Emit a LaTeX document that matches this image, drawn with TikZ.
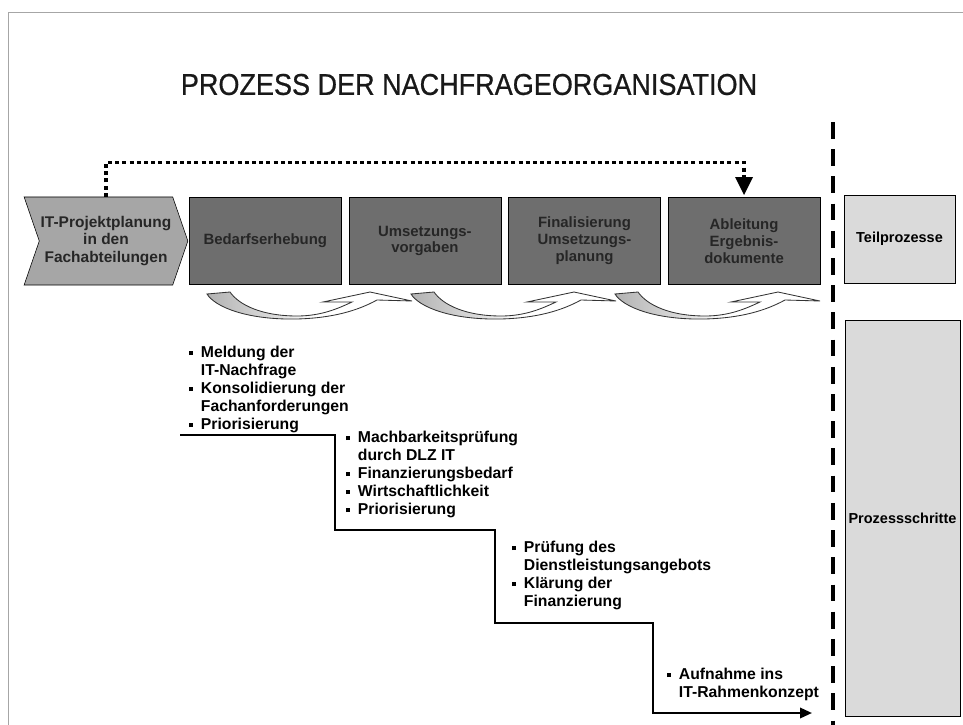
\documentclass[tikz,border=0pt]{standalone}
\usepackage{graphicx}
\usepackage{fontspec}
\setsansfont{Liberation Sans}
\newfontfamily\headfont[FakeBold=0.7]{Liberation Sans}
\usepackage{tikz}
\usetikzlibrary{positioning, shapes.symbols, arrows.meta}

\definecolor{boxgray}{HTML}{6E6E6E}
\definecolor{chevgray}{HTML}{A6A6A6}
\definecolor{palegray}{HTML}{DADADA}

% grey tail fading out towards the arrow head
\pgfdeclarehorizontalshading{tailfade}{100bp}{color(0bp)=(gray!60); color(25bp)=(gray!60); color(40bp)=(gray!30); color(52bp)=(white); color(100bp)=(white)}

\newcommand{\bul}{\raisebox{0.32ex}{\rule{2.8pt}{2.8pt}}}
\newcommand{\blist}[1]{\begin{tabular}{@{}l@{\hspace{5.5pt}}l@{}}#1\end{tabular}}

\begin{document}
\begin{tikzpicture}[
    x=0.025cm, y=-0.025cm,
    node distance=0.175cm,
    stepbox/.style={draw, fill=boxgray, minimum width=3.8cm, minimum height=2.175cm,
        inner sep=2pt, align=center, text=black!85,
        font=\sffamily\bfseries\fontsize{10.6}{12}\selectfont},
    sidebox/.style={draw, fill=palegray, inner sep=1pt,
        font=\sffamily\bfseries\fontsize{10.3}{12}\selectfont},
    itemlist/.style={anchor=north west, inner sep=0pt,
        font=\sffamily\bfseries\fontsize{11.2}{12.8}\selectfont},
    loopback/.style={line width=2.5pt, dash pattern=on 0.1cm off 0.08cm,
        -{Triangle[length=0.45cm, width=0.42cm]}, shorten >=0.05cm},
    stairline/.style={line width=1.6pt, -{Triangle[length=0.3cm, width=0.26cm]}},
    divider/.style={line width=3.2pt, dash pattern=on 0.42cm off 0.26cm},
    turnarrow/.style={draw=black!80, line width=0.6pt, shade, shading=tailfade}
]
    \useasboundingbox (0,0) rectangle (963,725);

    % page frame and heading
    \draw[gray!70, line width=0.6pt] (8,725) -- (8,12) -- (963,12);
    \node[inner sep=0pt, text=black!90] (title) at (469,84.5)
        {\resizebox{14.4cm}{0.525cm}{\headfont PROZESS DER NACHFRAGEORGANISATION}};

    % sub-processes
    \node[shape=signal, signal from=west, signal to=east, signal pointer angle=142,
          draw, fill=chevgray, minimum width=4.05cm, minimum height=2.2cm,
          inner sep=1pt, align=center, text=black!85,
          font=\sffamily\bfseries\fontsize{11}{12.2}\selectfont]
          (plan) at (106,241) {IT-Projektplanung\\in den\\Fachabteilungen};
    \node[stepbox, right=0.02cm of plan] (bedarf) {Bedarfserhebung};
    \node[stepbox, right=of bedarf] (vorgaben) {Umsetzungs-\\vorgaben};
    \node[stepbox, right=of vorgaben] (planung) {Finalisierung\\Umsetzungs-\\planung};
    \node[stepbox, right=of planung] (ableitung) {Ableitung\\Ergebnis-\\dokumente};

    \draw[loopback] (plan.north) -- ++(0,-34) -| (ableitung.north);

    % curved hand-over arrows under the boxes
    \foreach \t in {207,411,615} {
        \path[turnarrow, shift={(\t,293)}]
            (0,1) -- (23,-1) .. controls (32,12) and (55,23) .. (90,23)
            .. controls (115,23) and (132,15) .. (145,9) -- (116,9) -- (163,-1)
            -- (205,8) -- (170,7) .. controls (150,18) and (125,25) .. (90,26)
            .. controls (40,27) and (8,14) .. (0,1) -- cycle;
    }

    % legend on the right
    \draw[divider] (833,122) -- (833,725);
    \node[sidebox, minimum width=2.775cm, minimum height=2.2cm] (teil) at (899.5,239) {Teilprozesse};
    \node[sidebox, minimum width=2.875cm, minimum height=9.9cm] (schritte) at (902.5,518) {Prozessschritte};

    % process steps
    \node[itemlist] (meldung) at (189,345) {\blist{%
        \bul & Meldung der\\ & IT-Nachfrage\\
        \bul & Konsolidierung der\\ & Fachanforderungen\\
        \bul & Priorisierung}};
    \node[itemlist] (pruefung) at (346,430) {\blist{%
        \bul & Machbarkeitsprüfung\\ & durch DLZ IT\\
        \bul & Finanzierungsbedarf\\
        \bul & Wirtschaftlichkeit\\
        \bul & Priorisierung}};
    \node[itemlist] (angebot) at (512,540) {\blist{%
        \bul & Prüfung des\\ & Dienstleistungsangebots\\
        \bul & Klärung der\\ & Finanzierung}};
    \node[itemlist] (aufnahme) at (667,667) {\blist{%
        \bul & Aufnahme ins\\ & IT-Rahmenkonzept}};

    \coordinate (stairs) at (180,435);
    \coordinate (handover) at (812,713);
    \draw[stairline] (stairs) -| (335,530) -| (495,623) -| (653,713) -- (handover);
\end{tikzpicture}
\end{document}
